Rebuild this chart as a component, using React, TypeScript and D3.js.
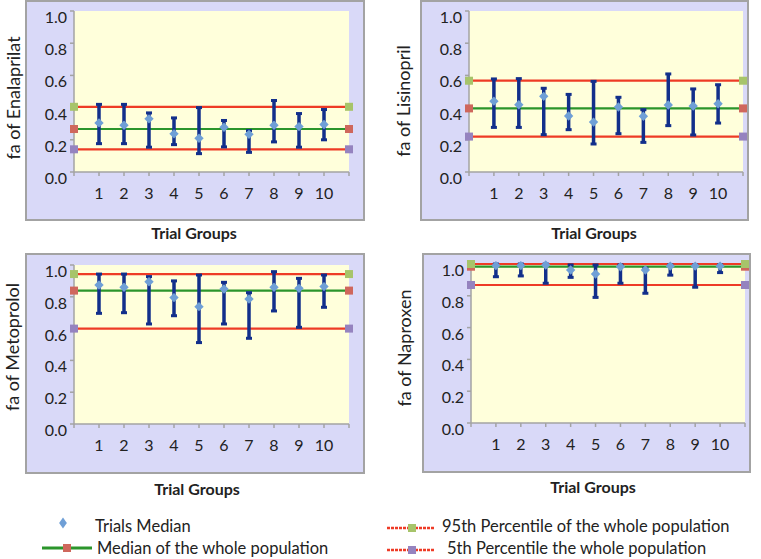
import React, { useEffect, useRef } from "react";
import * as d3 from "d3";

const trialGroups = [1, 2, 3, 4, 5, 6, 7, 8, 9, 10];
const yTicks = [0, 0.2, 0.4, 0.6, 0.8, 1.0];

// trial medians and ranges
const enalaprilatMedian = [0.305, 0.29, 0.33, 0.237, 0.21, 0.278, 0.234, 0.29, 0.282, 0.295];
const enalaprilatLow = [0.176, 0.176, 0.154, 0.17, 0.114, 0.156, 0.122, 0.187, 0.154, 0.2];
const enalaprilatHigh = [0.42, 0.42, 0.367, 0.336, 0.4, 0.32, 0.257, 0.444, 0.363, 0.388];
const enalaprilatPopulation = [0.141, 0.267, 0.405]; // 5th, median, 95th

const lisinoprilMedian = [0.44, 0.418, 0.47, 0.348, 0.31, 0.404, 0.346, 0.416, 0.41, 0.424];
const lisinoprilLow = [0.277, 0.277, 0.232, 0.263, 0.174, 0.238, 0.184, 0.288, 0.23, 0.304];
const lisinoprilHigh = [0.578, 0.58, 0.52, 0.482, 0.563, 0.464, 0.387, 0.609, 0.516, 0.542];
const lisinoprilPopulation = [0.22, 0.395, 0.567];

const metoprololMedian = [0.874, 0.86, 0.895, 0.795, 0.738, 0.849, 0.786, 0.86, 0.853, 0.864];
const metoprololLow = [0.696, 0.7, 0.629, 0.681, 0.512, 0.629, 0.539, 0.711, 0.608, 0.734];
const metoprololHigh = [0.943, 0.943, 0.927, 0.9, 0.937, 0.891, 0.826, 0.958, 0.916, 0.937];
const metoprololPopulation = [0.6, 0.839, 0.943];

const naproxenMedian = [0.99, 0.99, 0.994, 0.962, 0.937, 0.983, 0.962, 0.987, 0.987, 0.987];
const naproxenLow = [0.92, 0.925, 0.879, 0.916, 0.79, 0.879, 0.816, 0.93, 0.854, 0.946];
const naproxenHigh = [1.0, 1.0, 1.0, 0.994, 0.994, 0.994, 0.973, 0.994, 0.994, 0.994];
const naproxenPopulation = [0.868, 0.983, 1.0];

const legendLabels = [
  "Trials Median",
  "Median of the whole population",
  "95th Percentile of the whole population",
  "5th Percentile the whole population",
];

const FONT = "Lato, 'Open Sans', sans-serif";
const colors = {
  box: "#d9d9f8",
  plot: "#ffffdb",
  border: "#a3a3a3",
  bar: "#122f8b",
  diamond: "#6f9fd6",
  median: "#2b952b",
  pct: "#ee3b26",
  sq95: "#a7c46a",
  sqMed: "#cf675c",
  sq5: "#9583bf",
};

const panels = [
  { title: "fa of Enalaprilat", median: enalaprilatMedian, low: enalaprilatLow, high: enalaprilatHigh, pop: enalaprilatPopulation },
  { title: "fa of Lisinopril", median: lisinoprilMedian, low: lisinoprilLow, high: lisinoprilHigh, pop: lisinoprilPopulation },
  { title: "fa of Metoprolol", median: metoprololMedian, low: metoprololLow, high: metoprololHigh, pop: metoprololPopulation },
  { title: "fa of Naproxen", median: naproxenMedian, low: naproxenLow, high: naproxenHigh, pop: naproxenPopulation },
];

// box / plot geometry of each panel
const layouts = [
  { box: [26, 1, 364, 220], px: [74, 349], py: [172, 11], tx: 13, ty: 98, gx: 194, gy: 239 },
  { box: [421, 1, 748, 220], px: [469, 743], py: [172, 11], tx: 403, ty: 101, gx: 594, gy: 239 },
  { box: [26, 254, 364, 473], px: [74, 349], py: [424, 265], tx: 12, ty: 347, gx: 197, gy: 495 },
  { box: [423, 254, 750, 472], px: [471, 745], py: [423, 264], tx: 404, ty: 348, gx: 593, gy: 493 },
];

const App = () => {
  const svgRef = useRef(null);

  useEffect(() => {
    const svg = d3.select(svgRef.current);
    svg.selectAll("*").remove();

    const diamond = d3.symbol().type(d3.symbolDiamond2).size(56);

    panels.forEach((p, i) => {
      const L = layouts[i];
      const g = svg.append("g");
      const x = d3.scaleLinear().domain([0, 11]).range(L.px);
      const y = d3.scaleLinear().domain([0, 1]).range(L.py);

      g.append("rect")
        .attr("x", L.box[0])
        .attr("y", L.box[1])
        .attr("width", L.box[2] - L.box[0])
        .attr("height", L.box[3] - L.box[1])
        .attr("fill", colors.box)
        .attr("stroke", colors.border)
        .attr("stroke-width", 2);

      g.append("rect")
        .attr("x", x(0))
        .attr("y", y(1))
        .attr("width", x(11) - x(0))
        .attr("height", y(0) - y(1))
        .attr("fill", colors.plot);

      // axes
      g.append("line")
        .attr("x1", x(0)).attr("x2", x(0))
        .attr("y1", y(0)).attr("y2", y(1))
        .attr("stroke", colors.border).attr("stroke-width", 1.5);
      g.append("line")
        .attr("x1", x(0)).attr("x2", x(11))
        .attr("y1", y(0)).attr("y2", y(0))
        .attr("stroke", colors.border).attr("stroke-width", 1.5);

      yTicks.forEach((t) => {
        g.append("line")
          .attr("x1", x(0) - 4).attr("x2", x(0))
          .attr("y1", y(t)).attr("y2", y(t))
          .attr("stroke", colors.border).attr("stroke-width", 1.5);
        g.append("text")
          .attr("x", x(0) - 7)
          .attr("y", y(t) + 12)
          .attr("text-anchor", "end")
          .attr("font-family", FONT)
          .attr("font-size", 16)
          .attr("fill", "#222")
          .text(t.toFixed(1));
      });

      d3.range(0, 12).forEach((k) => {
        g.append("line")
          .attr("x1", x(k)).attr("x2", x(k))
          .attr("y1", y(0)).attr("y2", y(0) + 4)
          .attr("stroke", colors.border).attr("stroke-width", 1.5);
      });

      trialGroups.forEach((c) => {
        g.append("text")
          .attr("x", x(c))
          .attr("y", y(0) + 27)
          .attr("text-anchor", "middle")
          .attr("font-family", FONT)
          .attr("font-size", 16)
          .attr("fill", "#222")
          .text(c);
      });

      g.append("text")
        .attr("transform", `translate(${L.tx},${L.ty}) rotate(-90)`)
        .attr("text-anchor", "middle")
        .attr("dominant-baseline", "central")
        .attr("font-family", FONT)
        .attr("font-size", 18)
        .attr("fill", "#222")
        .text(p.title);

      g.append("text")
        .attr("x", L.gx)
        .attr("y", L.gy)
        .attr("text-anchor", "middle")
        .attr("font-family", FONT)
        .attr("font-weight", "bold")
        .attr("font-size", 16)
        .attr("fill", "#222")
        .text("Trial Groups");

      // population lines: median, 95th, 5th
      const refs = [
        { v: p.pop[1], line: colors.median, sq: colors.sqMed },
        { v: p.pop[2], line: colors.pct, sq: colors.sq95 },
        { v: p.pop[0], line: colors.pct, sq: colors.sq5 },
      ];
      refs.forEach((r) => {
        g.append("line")
          .attr("x1", x(0)).attr("x2", x(11))
          .attr("y1", y(r.v)).attr("y2", y(r.v))
          .attr("stroke", r.line).attr("stroke-width", 2.2);
        [0, 11].forEach((k) => {
          g.append("rect")
            .attr("x", x(k) - 4).attr("y", y(r.v) - 4)
            .attr("width", 8).attr("height", 8)
            .attr("fill", r.sq);
        });
      });

      // error bars
      trialGroups.forEach((c, j) => {
        g.append("line")
          .attr("x1", x(c)).attr("x2", x(c))
          .attr("y1", y(p.low[j])).attr("y2", y(p.high[j]))
          .attr("stroke", colors.bar).attr("stroke-width", 3.5);
        [p.low[j], p.high[j]].forEach((v) => {
          g.append("rect")
            .attr("x", x(c) - 3).attr("y", y(v) - 1.5)
            .attr("width", 6).attr("height", 3)
            .attr("fill", colors.bar);
        });
      });

      g.selectAll(".dia")
        .data(p.median)
        .join("path")
        .attr("d", diamond)
        .attr("transform", (d, j) => `translate(${x(trialGroups[j])},${y(d)})`)
        .attr("fill", colors.diamond);
    });

    // legend
    const lg = svg.append("g").attr("font-family", FONT).attr("font-size", 16.5).attr("fill", "#222");
    lg.append("path").attr("d", d3.symbol().type(d3.symbolDiamond2).size(60)).attr("transform", "translate(63,523) scale(0.8,1.15)").attr("fill", colors.diamond);
    lg.append("text").attr("x", 95).attr("y", 532).text(legendLabels[0]);

    lg.append("line").attr("x1", 42).attr("x2", 92).attr("y1", 548).attr("y2", 548).attr("stroke", colors.median).attr("stroke-width", 3);
    lg.append("rect").attr("x", 63).attr("y", 544).attr("width", 8).attr("height", 8).attr("fill", colors.sqMed);
    lg.append("text").attr("x", 97).attr("y", 554).text(legendLabels[1]);

    [
      { yy: 528, sq: colors.sq95, tx: 442, label: legendLabels[2], ty: 532 },
      { yy: 550, sq: colors.sq5, tx: 447, label: legendLabels[3], ty: 554 },
    ].forEach((e) => {
      lg.append("line").attr("x1", 387).attr("x2", 435).attr("y1", e.yy).attr("y2", e.yy)
        .attr("stroke", colors.pct).attr("stroke-width", 2.5).attr("stroke-dasharray", "3 1");
      lg.append("rect").attr("x", 408).attr("y", e.yy - 4).attr("width", 8).attr("height", 8).attr("fill", e.sq);
      lg.append("text").attr("x", e.tx).attr("y", e.ty).text(e.label);
    });
  }, []);

  return (
    <svg
      ref={svgRef}
      width={761}
      height={559}
      style={{ position: "absolute", left: 0, top: 0, background: "#fff" }}
    />
  );
};

export default App;
